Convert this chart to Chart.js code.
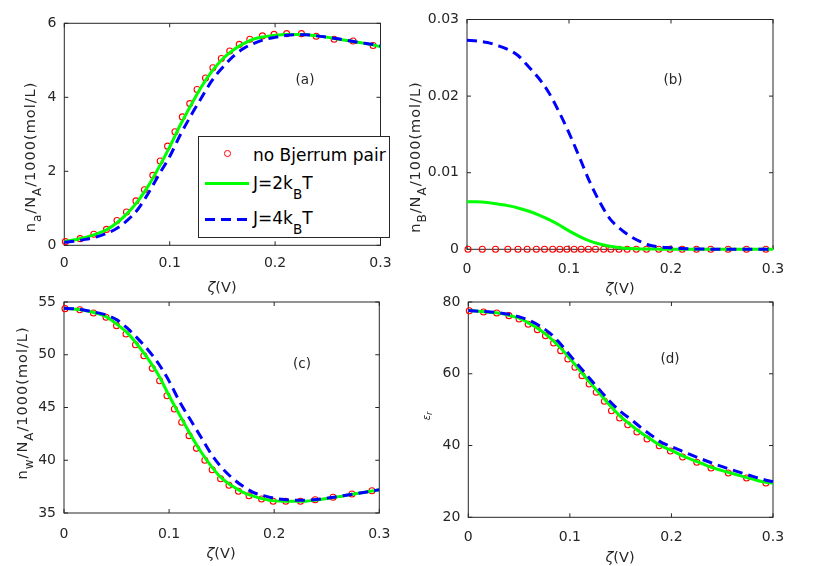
<!DOCTYPE html>
<html>
<head>
<meta charset="utf-8">
<script src="https://cdn.jsdelivr.net/npm/chart.js@4.4.1/dist/chart.umd.min.js"></script>
<style>
  body { margin: 0; background: #fff; }
  #fig { position: relative; width: 830px; height: 566px; overflow: hidden;
         font-family: "DejaVu Sans", sans-serif; color: #262626; }
  canvas { position: absolute; }
  .lbl { position: absolute; white-space: nowrap; font-size: 14.5px; line-height: 18px; }
  .ytitle { transform: translate(-50%, -50%) rotate(-90deg); letter-spacing: 1px; }
  .ctr { transform: translate(-50%, -50%); }
  .sub { position: relative; top: 6px; font-size: 12px; }
  #legend { position: absolute; left: 197.7px; top: 136px; width: 192.3px; height: 102px;
            box-sizing: border-box; border: 1px solid #262626; background: #fff; }
  #legend .mk { position: absolute; left: 25.7px; top: 13.4px; width: 6.6px; height: 6.6px;
                box-sizing: border-box; border: 1px solid #ff0000; border-radius: 50%; }
  #legend .ln { position: absolute; left: 6.6px; width: 44px; height: 3px; }
  #legend .lt { position: absolute; left: 54.3px; font-size: 17px; line-height: 20px; white-space: nowrap; color: #000; }
  #legend .lsub { position: relative; top: 10px; font-size: 13.5px; }
</style>
</head>
<body>
<div id="fig">
  <canvas id="pa" width="415" height="283" style="left:0;top:0"></canvas>
  <canvas id="pb" width="415" height="283" style="left:415px;top:0"></canvas>
  <canvas id="pc" width="415" height="283" style="left:0;top:283px"></canvas>
  <canvas id="pd" width="415" height="283" style="left:415px;top:283px"></canvas>

  <div class="lbl ytitle" style="left:30px;top:157px">n<span class="sub">a</span>/N<span class="sub">A</span>/1000(mol/L)</div>
  <div class="lbl ytitle" style="left:415px;top:157px">n<span class="sub">B</span>/N<span class="sub">A</span>/1000(mol/L)</div>
  <div class="lbl ytitle" style="left:22px;top:403px">n<span class="sub">w</span>/N<span class="sub">A</span>/1000(mol/L)</div>
  <div class="lbl ytitle" style="left:427px;top:416px;font-size:10px;font-style:italic;letter-spacing:0">ε<span style="font-size:8px;position:relative;top:2px">r</span></div>

  <div class="lbl ctr" style="left:222px;top:287px"><i>ζ</i>(V)</div>
  <div class="lbl ctr" style="left:620px;top:288px"><i>ζ</i>(V)</div>
  <div class="lbl ctr" style="left:221px;top:553px"><i>ζ</i>(V)</div>
  <div class="lbl ctr" style="left:620px;top:557px"><i>ζ</i>(V)</div>

  <div class="lbl ctr" style="left:305px;top:79px;font-size:13.5px">(a)</div>
  <div class="lbl ctr" style="left:673px;top:79px;font-size:13.5px">(b)</div>
  <div class="lbl ctr" style="left:302px;top:363px;font-size:13.5px">(c)</div>
  <div class="lbl ctr" style="left:670px;top:358px;font-size:13.5px">(d)</div>

  <div id="legend">
    <span class="mk"></span>
    <span class="ln" style="top:45.2px;background:#00ff00"></span>
    <span class="ln" style="top:80.5px;background:repeating-linear-gradient(to right,#0000ff 0 10px,transparent 10px 16px)"></span>
    <div class="lt" style="top:7.8px">no Bjerrum pair</div>
    <div class="lt" style="top:35.5px">J=2k<span class="lsub">B</span>T</div>
    <div class="lt" style="top:71px">J=4k<span class="lsub">B</span>T</div>
  </div>
</div>

<script>
// x positions
const zetaGrid = [0, 0.01, 0.02, 0.03, 0.04, 0.05, 0.06, 0.07, 0.08, 0.09, 0.10,
    0.11, 0.12, 0.13, 0.14, 0.15, 0.16, 0.17, 0.18, 0.19, 0.20,
    0.21, 0.22, 0.23, 0.24, 0.25, 0.26, 0.27, 0.28, 0.29, 0.30];
const zetaPts = [0.001, 0.015, 0.028, 0.040, 0.050, 0.059, 0.068, 0.076, 0.084, 0.091,
    0.098, 0.105, 0.112, 0.119, 0.126, 0.134, 0.141, 0.149, 0.157, 0.166,
    0.176, 0.188, 0.199, 0.211, 0.225, 0.239, 0.256, 0.274, 0.293];

// (a) n_a
const naPts = [0.10, 0.18, 0.30, 0.43, 0.67, 0.90, 1.20, 1.50, 1.89, 2.28,
    2.68, 3.07, 3.47, 3.83, 4.21, 4.52, 4.80, 5.05, 5.25, 5.43,
    5.57, 5.66, 5.70, 5.72, 5.72, 5.65, 5.57, 5.52, 5.40];
const naJ2 = [0.10, 0.15, 0.21, 0.30, 0.42, 0.61, 0.87, 1.20, 1.62, 2.12, 2.66,
    3.25, 3.78, 4.28, 4.70, 5.03, 5.27, 5.45, 5.58, 5.64, 5.68,
    5.70, 5.70, 5.69, 5.66, 5.62, 5.57, 5.53, 5.48, 5.43, 5.37];
const naJ4 = [0.08, 0.11, 0.16, 0.22, 0.32, 0.46, 0.68, 0.98, 1.42, 1.92, 2.40,
    2.98, 3.50, 3.98, 4.45, 4.80, 5.10, 5.32, 5.46, 5.56, 5.62,
    5.67, 5.69, 5.69, 5.66, 5.62, 5.58, 5.53, 5.48, 5.44, 5.39];

// (b) n_B
const nbPts = [0, 0, 0, 0, 0, 0, 0, 0, 0, 0, 0, 0, 0, 0, 0, 0, 0, 0, 0, 0,
    0, 0, 0, 0, 0, 0, 0, 0, 0];
const nbJ2 = [0.0062, 0.0062, 0.0061, 0.0059, 0.0057, 0.0054, 0.0050, 0.0045, 0.0039, 0.0032, 0.0024,
    0.0017, 0.0011, 0.0007, 0.0004, 0.0002, 0.0001, 0.00005, 0.00003, 0.00002, 0.00001,
    0, 0, 0, 0, 0, 0, 0, 0, 0, 0];
const nbJ4 = [0.0273, 0.0272, 0.0270, 0.0266, 0.0261, 0.0253, 0.0239, 0.0224, 0.0205, 0.0180, 0.0152,
    0.0121, 0.0089, 0.0062, 0.0040, 0.0027, 0.0017, 0.0010, 0.0005, 0.0003, 0.0002,
    0.0001, 0.00006, 0.00003, 0.00002, 0.00001, 0, 0, 0, 0, 0];

// (c) n_w
const nwPts = [54.37, 54.27, 53.96, 53.55, 52.76, 51.97, 50.95, 49.91, 48.71, 47.54,
    46.12, 44.86, 43.60, 42.33, 41.13, 40.00, 39.10, 38.25, 37.63, 37.06,
    36.64, 36.33, 36.11, 36.11, 36.11, 36.26, 36.49, 36.80, 37.11];
const nwJ2 = [54.40, 54.32, 54.20, 53.96, 53.62, 52.92, 52.10, 50.95, 49.60, 48.05, 46.12,
    44.30, 42.50, 40.85, 39.45, 38.30, 37.55, 36.98, 36.60, 36.33, 36.15,
    36.11, 36.11, 36.12, 36.24, 36.38, 36.53, 36.70, 36.87, 37.03, 37.20];
const nwJ4 = [54.40, 54.35, 54.22, 54.02, 53.78, 53.33, 52.54, 51.55, 50.45, 49.15, 47.50,
    45.55, 43.88, 42.25, 40.60, 39.30, 38.32, 37.55, 36.96, 36.65, 36.40,
    36.27, 36.22, 36.22, 36.28, 36.40, 36.55, 36.70, 36.87, 37.03, 37.20];

// (d) eps_r
const epsPts = [77.58, 77.20, 76.94, 76.19, 75.27, 73.79, 72.29, 70.62, 68.58, 66.44,
    64.12, 61.81, 59.47, 57.15, 54.83, 52.33, 49.71, 47.68, 45.81, 43.77,
    41.82, 39.96, 38.48, 36.80, 35.33, 33.74, 32.35, 30.95, 29.56];
const epsJ2 = [77.60, 77.39, 77.13, 76.90, 76.28, 75.48, 74.03, 72.34, 70.17, 67.46, 64.28,
    60.93, 57.47, 54.30, 51.00, 48.06, 45.72, 43.55, 41.68, 39.87, 38.68,
    37.27, 36.08, 34.99, 33.87, 33.02, 32.20, 31.40, 30.63, 29.92, 29.45];
const epsJ4 = [77.60, 77.45, 77.25, 77.00, 76.60, 75.85, 74.90, 73.40, 71.40, 68.60, 65.20,
    61.85, 58.55, 55.30, 52.15, 49.45, 47.30, 45.00, 42.90, 40.90, 39.70,
    38.50, 37.30, 36.20, 35.10, 34.10, 33.20, 32.30, 31.40, 30.60, 29.90];

// ticks
const xTicks = [0, 0.1, 0.2, 0.3];
const naTicks = [0, 2, 4, 6];
const nbTicks = [0, 0.01, 0.02, 0.03];
const nwTicks = [35, 40, 45, 50, 55];
const epsTicks = [20, 40, 60, 80];

const axisColor = "#262626";
const tickFont = { family: "DejaVu Sans", size: 14 };

// matlab style box with inward ticks
const boxTicks = {
    id: "boxTicks",
    beforeDatasetsDraw(chart) {
        const { ctx, chartArea: a, scales } = chart;
        const len = 4;
        ctx.save();
        ctx.strokeStyle = axisColor;
        ctx.lineWidth = 1;
        ctx.strokeRect(a.left, a.top, a.right - a.left, a.bottom - a.top);
        ctx.beginPath();
        scales.x.ticks.forEach((t) => {
            const px = scales.x.getPixelForValue(t.value);
            ctx.moveTo(px, a.bottom); ctx.lineTo(px, a.bottom - len);
            ctx.moveTo(px, a.top); ctx.lineTo(px, a.top + len);
        });
        scales.y.ticks.forEach((t) => {
            const py = scales.y.getPixelForValue(t.value);
            ctx.moveTo(a.left, py); ctx.lineTo(a.left + len, py);
            ctx.moveTo(a.right, py); ctx.lineTo(a.right - len, py);
        });
        ctx.stroke();
        ctx.restore();
    },
};

const pairs = (xs, ys) => xs.map((x, i) => ({ x: x, y: ys[i] }));

function makePanel(id, pts, j2, j4, yTicks, box) {
    new Chart(document.getElementById(id), {
        type: "line",
        data: {
            datasets: [
                {
                    label: "J=4kBT",
                    data: pairs(zetaGrid, j4),
                    borderColor: "#0000ff",
                    borderWidth: 3,
                    borderDash: [10, 6],
                    pointRadius: 0,
                    cubicInterpolationMode: "monotone",
                    order: 1,
                    clip: 6,
                },
                {
                    label: "J=2kBT",
                    data: pairs(zetaGrid, j2),
                    borderColor: "#00ff00",
                    borderWidth: 3,
                    pointRadius: 0,
                    cubicInterpolationMode: "monotone",
                    order: 2,
                    clip: 6,
                },
                {
                    label: "no Bjerrum pair",
                    data: pairs(zetaPts, pts),
                    showLine: false,
                    pointRadius: 3,
                    pointBorderWidth: 1.1,
                    pointBorderColor: "#ff0000",
                    pointBackgroundColor: "rgba(0,0,0,0)",
                    order: 3,
                    clip: 6,
                },
            ],
        },
        options: {
            responsive: false,
            animation: false,
            events: [],
            layout: { padding: { top: box.padTop, right: box.padRight, left: 0, bottom: 0 } },
            plugins: { legend: { display: false }, tooltip: { enabled: false } },
            scales: {
                x: {
                    type: "linear",
                    min: xTicks[0],
                    max: xTicks[xTicks.length - 1],
                    grid: { display: false, drawTicks: false },
                    border: { display: false },
                    ticks: { font: tickFont, color: axisColor, padding: box.xPad, maxRotation: 0,
                             callback: (v) => String(v) },
                    afterBuildTicks: (s) => { s.ticks = xTicks.map((v) => ({ value: v })); },
                    afterFit: (s) => { s.height = box.xH; s.paddingLeft = 0; s.paddingRight = 0; },
                },
                y: {
                    type: "linear",
                    min: yTicks[0],
                    max: yTicks[yTicks.length - 1],
                    grid: { display: false, drawTicks: false },
                    border: { display: false },
                    ticks: { font: tickFont, color: axisColor, padding: 8,
                             callback: (v) => String(v) },
                    afterBuildTicks: (s) => { s.ticks = yTicks.map((v) => ({ value: v })); },
                    afterFit: (s) => { s.width = box.yW; s.paddingTop = 0; s.paddingBottom = 0; },
                },
            },
        },
        plugins: [boxTicks],
    });
}

makePanel("pa", naPts, naJ2, naJ4, naTicks, { padTop: 23.3, padRight: 34.5, yW: 64.3, xH: 37.7, xPad: 10 });
makePanel("pb", nbPts, nbJ2, nbJ4, nbTicks, { padTop: 19.5, padRight: 57, yW: 52, xH: 33.7, xPad: 11.5 });
makePanel("pc", nwPts, nwJ2, nwJ4, nwTicks, { padTop: 19, padRight: 35.7, yW: 64, xH: 53, xPad: 12.5 });
makePanel("pd", epsPts, epsJ2, epsJ4, epsTicks, { padTop: 19, padRight: 57, yW: 53.3, xH: 48.7, xPad: 11.3 });
</script>
</body>
</html>
